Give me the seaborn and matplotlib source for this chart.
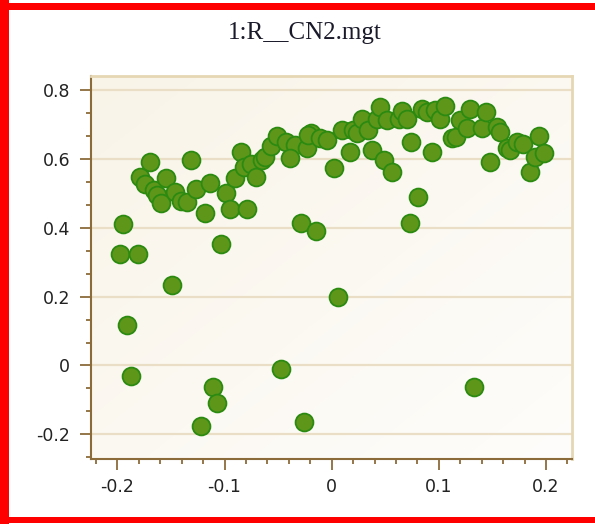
import numpy as np
import pandas as pd
import matplotlib
matplotlib.use("Agg")
import matplotlib.pyplot as plt
from matplotlib.ticker import FixedLocator, MultipleLocator, AutoMinorLocator, FuncFormatter
from matplotlib.patches import Rectangle
from matplotlib.colors import to_rgb
import seaborn as sns

# Scatter data
x_vals = [-0.198, -0.181, -0.195, -0.191, -0.187, -0.149, -0.111, -0.107, -0.122, -0.047,
          -0.026, 0.006, 0.133, -0.103, -0.118, -0.170, -0.131, -0.179, -0.174, -0.166,
          -0.163, -0.159, -0.155, -0.146, -0.141, -0.135, -0.127, -0.114, -0.099, -0.095,
          -0.090, -0.085, -0.079, -0.082, -0.075, -0.071, -0.065, -0.062, -0.057, -0.051,
          -0.043, -0.034, -0.039, -0.029, -0.015, -0.023, -0.019, -0.022, -0.011, -0.004,
          0.002, 0.010, 0.017, 0.020, 0.024, 0.028, 0.034, 0.0375, 0.042, 0.045,
          0.049, 0.0515, 0.0565, 0.0624, 0.066, 0.070, 0.074, 0.073, 0.081, 0.084,
          0.089, 0.094, 0.0966, 0.101, 0.106, 0.112, 0.116, 0.120, 0.126, 0.129,
          0.140, 0.1445, 0.148, 0.154, 0.157, 0.1636, 0.1667, 0.173, 0.179, 0.1855,
          0.190, 0.1937, 0.198]
y_vals = [0.324, 0.324, 0.410, 0.117, -0.030, 0.234, -0.063, -0.110, -0.175, -0.010,
          -0.163, 0.200, -0.063, 0.352, 0.444, 0.591, 0.597, 0.549, 0.527, 0.510,
          0.495, 0.473, 0.544, 0.505, 0.478, 0.476, 0.514, 0.531, 0.502, 0.456,
          0.544, 0.621, 0.456, 0.577, 0.585, 0.548, 0.597, 0.606, 0.639, 0.668,
          0.650, 0.642, 0.602, 0.414, 0.391, 0.631, 0.675, 0.669, 0.662, 0.655,
          0.573, 0.684, 0.621, 0.684, 0.675, 0.716, 0.684, 0.626, 0.718, 0.751,
          0.597, 0.713, 0.563, 0.718, 0.739, 0.718, 0.650, 0.415, 0.489, 0.747,
          0.737, 0.620, 0.742, 0.718, 0.755, 0.660, 0.665, 0.713, 0.689, 0.745,
          0.689, 0.737, 0.592, 0.693, 0.679, 0.631, 0.626, 0.650, 0.645, 0.562,
          0.606, 0.667, 0.618]

title_text = "1:R__CN2.mgt"
x_ticks = [-0.2, -0.1, 0, 0.1, 0.2]
y_ticks = [-0.2, 0, 0.2, 0.4, 0.6, 0.8]

df = pd.DataFrame({"x": x_vals, "y": y_vals})

sns.set_theme(style="white")
plt.rcParams["font.family"] = ["DejaVu Sans"]
plt.rcParams["axes.unicode_minus"] = False

W, H = 595, 524
fig = plt.figure(figsize=(W / 100, H / 100), dpi=100)
fig.patch.set_facecolor("white")
ax = fig.add_axes([91 / W, 1 - 459 / H, (572 - 91) / W, (459 - 76) / H])

# soft diagonal background wash
n = 200
u, v = np.meshgrid(np.linspace(0, 1, n), np.linspace(1, 0, n))
t = np.clip((u + (1 - v)) / 2, 0, 1)[..., None]
c0 = np.array(to_rgb("#f9f4e8"))
c1 = np.array(to_rgb("#fefdfb"))
grad = c0 * (1 - t) + c1 * t
ax.imshow(grad, extent=[0, 1, 0, 1], transform=ax.transAxes, aspect="auto",
          zorder=-2, interpolation="bilinear")

ax.set_axisbelow(True)
ax.yaxis.grid(True, color="#eadfc6", lw=1.6)
ax.xaxis.grid(False)

sns.scatterplot(data=df, x="x", y="y", ax=ax, s=165, color="#5e961a",
                edgecolor="#2b8a10", linewidth=1.3, zorder=3, legend=False)

ax.set_xlim(-0.2246, 0.2243)
ax.set_ylim(-0.272, 0.8416)
ax.set_xlabel("")
ax.set_ylabel("")

ax.xaxis.set_major_locator(FixedLocator(x_ticks))
ax.yaxis.set_major_locator(FixedLocator(y_ticks))
ax.xaxis.set_minor_locator(MultipleLocator(0.02))
ax.yaxis.set_minor_locator(AutoMinorLocator(3))
fmt = FuncFormatter(lambda val, pos: f"{val:g}")
ax.xaxis.set_major_formatter(fmt)
ax.yaxis.set_major_formatter(fmt)

brown = "#8b6b3a"
ax.tick_params(which="both", bottom=True, left=True, top=False, right=False,
               direction="out", color=brown, width=1.3)
ax.tick_params(which="major", length=8, labelsize=12.5, labelcolor="#222222")
ax.tick_params(axis="x", which="major", pad=6)
ax.tick_params(axis="y", which="major", pad=7)
ax.tick_params(which="minor", length=3.5)

for side in ("left", "bottom"):
    ax.spines[side].set_color(brown)
    ax.spines[side].set_linewidth(1.5)
for side in ("top", "right"):
    ax.spines[side].set_color("#e6d7b4")
    ax.spines[side].set_linewidth(2)

fig.text(305 / W, 1 - 33 / H, title_text, ha="center", va="center",
         fontsize=18, family=["Liberation Serif"], color="#1a1a2a")

# red frame
red = "#ff0000"
fig.add_artist(Rectangle((0, 0), 9 / W, 1, transform=fig.transFigure,
                         color=red, lw=0))
fig.add_artist(Rectangle((0, 1 - 10 / H), 1, 7 / H, transform=fig.transFigure,
                         color=red, lw=0))
fig.add_artist(Rectangle((0, 1 / H), 1, 6 / H, transform=fig.transFigure,
                         color=red, lw=0))

fig.savefig("out.png", dpi=100)
